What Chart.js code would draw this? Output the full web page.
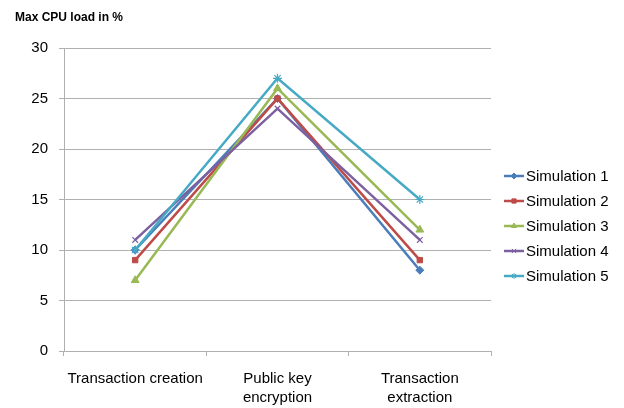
<!DOCTYPE html>
<html>
<head>
<meta charset="utf-8">
<script src="https://cdn.jsdelivr.net/npm/chart.js@4/dist/chart.umd.min.js"></script>
<style>
  html, body { margin: 0; padding: 0; background: #fff; }
  #wrap { width: 624px; height: 408px; position: relative; }
</style>
</head>
<body>
<div id="wrap"><canvas id="c" width="624" height="408"></canvas></div>
<script>
// Task categories shown on the x axis (multi-line labels as arrays)
const categories = [
  'Transaction creation',
  ['Public key', 'encryption'],
  ['Transaction', 'extraction']
];

// Max CPU load (%) per simulation run
const sim1 = [10, 25, 8];
const sim2 = [9, 25, 9];
const sim3 = [7, 26, 12];
const sim4 = [11, 24, 11];
const sim5 = [10, 27, 15];

const seriesNames = ['Simulation 1', 'Simulation 2', 'Simulation 3', 'Simulation 4', 'Simulation 5'];
const seriesValues = [sim1, sim2, sim3, sim4, sim5];

const yTicks = [0, 5, 10, 15, 20, 25, 30];
const chartTitle = 'Max CPU load in %';

const colors = ['#4A7EBB', '#BE4B48', '#98B954', '#7D60A0', '#46AAC5'];
const markers = [
  { style: 'rectRot', radius: 4, width: 1 },
  { style: 'rect', radius: 3.8, width: 1 },
  { style: 'triangle', radius: 4.5, width: 1 },
  { style: 'crossRot', radius: 4, width: 1.2 },
  { style: 'star', radius: 4.5, width: 1.2 }
];

const FONT = '"Liberation Sans", Arial, sans-serif';

const datasets = seriesValues.map((vals, i) => ({
  label: seriesNames[i],
  data: vals,
  borderColor: colors[i],
  backgroundColor: colors[i],
  borderWidth: 2.5,
  pointStyle: markers[i].style,
  pointRadius: markers[i].radius,
  pointBorderWidth: markers[i].width,
  pointBackgroundColor: colors[i],
  pointBorderColor: colors[i],
  tension: 0,
  order: seriesValues.length - 1 - i
}));

// Title in the top-left corner and a legend to the right of the plot
const decorations = {
  id: 'decorations',
  afterDraw(chart) {
    const ctx = chart.ctx;
    ctx.save();
    ctx.fillStyle = '#000';
    ctx.font = 'bold 12px ' + FONT;
    ctx.textBaseline = 'alphabetic';
    ctx.textAlign = 'left';
    ctx.fillText(chartTitle, 15, 21);

    const x0 = 504, x1 = 524, top = 176, step = 25;
    ctx.font = '15px ' + FONT;
    ctx.textBaseline = 'middle';
    datasets.forEach((ds, i) => {
      const y = top + i * step;
      ctx.strokeStyle = ds.borderColor;
      ctx.fillStyle = ds.borderColor;
      ctx.lineWidth = 2.5;
      ctx.beginPath();
      ctx.moveTo(x0, y);
      ctx.lineTo(x1, y);
      ctx.stroke();
      ctx.lineWidth = 1;
      Chart.helpers.drawPoint(ctx, {
        pointStyle: ds.pointStyle,
        radius: 3,
        rotation: 0,
        borderWidth: 1
      }, (x0 + x1) / 2, y);
      ctx.fillStyle = '#000';
      ctx.fillText(ds.label, x1 + 2, y + 1);
    });
    ctx.restore();
  }
};

new Chart(document.getElementById('c'), {
  type: 'line',
  data: { labels: categories, datasets },
  options: {
    responsive: false,
    animation: false,
    events: [],
    layout: { padding: { top: 48, right: 133, bottom: 0, left: 0 } },
    plugins: { legend: { display: false }, tooltip: { enabled: false }, title: { display: false } },
    scales: {
      x: {
        type: 'category',
        offset: true,
        grid: {
          display: true,
          offset: true,
          drawOnChartArea: false,
          drawTicks: true,
          tickLength: 5,
          color: '#B0B0B0'
        },
        border: { display: true, color: '#B0B0B0', width: 1 },
        ticks: {
          color: '#000',
          font: { family: FONT, size: 15, lineHeight: 1.27 },
          padding: 13,
          maxRotation: 0,
          autoSkip: false
        },
        afterFit(scale) { scale.height = 57; }
      },
      y: {
        min: 0,
        max: 30,
        afterBuildTicks(scale) { scale.ticks = yTicks.map(v => ({ value: v })); },
        grid: {
          color: '#B0B0B0',
          lineWidth: 1,
          drawTicks: true,
          tickLength: 5
        },
        border: { display: true, color: '#B0B0B0', width: 1 },
        ticks: {
          color: '#000',
          font: { family: FONT, size: 15 },
          padding: 11
        },
        afterFit(scale) { scale.width = 64; }
      }
    }
  },
  plugins: [decorations]
});
</script>
</body>
</html>
